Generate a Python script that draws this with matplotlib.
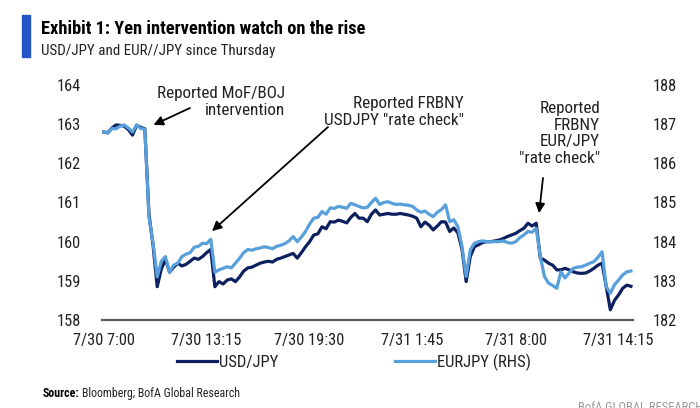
import matplotlib
matplotlib.use("Agg")
import matplotlib.pyplot as plt
import numpy as np

FONT = ['Roboto Condensed', 'Roboto', 'DejaVu Sans']
plt.rcParams['font.family'] = FONT

# ---------------- data ----------------
tick_labels = ["7/30 7:00", "7/30 13:15", "7/30 19:30", "7/31 1:45", "7/31 8:00", "7/31 14:15"]
tick_step = 25  # one tick label every 25 quarter-hour observations

usdjpy = [
    162.80, 162.78, 162.90, 162.98, 162.97, 162.95, 162.86, 162.72, 162.97, 162.92,
    162.88, 160.70, 159.90, 158.85, 159.30, 159.55, 159.22, 159.35, 159.45, 159.38,
    159.42, 159.50, 159.58, 159.55, 159.62, 159.72, 159.80, 158.85, 158.98, 158.92,
    159.02, 159.05, 158.98, 159.10, 159.25, 159.33, 159.35, 159.40, 159.45, 159.48,
    159.50, 159.48, 159.55, 159.58, 159.62, 159.66, 159.70, 159.58, 159.72, 159.87,
    160.00, 160.17, 160.20, 160.38, 160.33, 160.51, 160.50, 160.55, 160.52, 160.48,
    160.62, 160.72, 160.60, 160.60, 160.51, 160.70, 160.81, 160.68, 160.70, 160.72,
    160.70, 160.70, 160.72, 160.70, 160.68, 160.65, 160.60, 160.38, 160.50, 160.42,
    160.30, 160.40, 160.51, 160.50, 160.26, 160.35, 160.22, 159.80, 158.98, 159.62,
    159.87, 159.92, 159.98, 160.00, 160.00, 160.02, 160.04, 160.08, 160.13, 160.17,
    160.21, 160.28, 160.34, 160.47, 160.40, 160.47, 159.58, 159.53, 159.45, 159.40,
    159.28, 159.28, 159.32, 159.28, 159.23, 159.20, 159.19, 159.20, 159.25, 159.32,
    159.40, 159.45, 158.85, 158.26, 158.50, 158.64, 158.81, 158.89, 158.86,
]

eurjpy = [
    186.81, 186.77, 186.89, 186.88, 186.95, 186.98, 186.90, 186.80, 186.98, 186.89,
    186.87, 184.64, 183.96, 183.10, 183.50, 183.62, 183.22, 183.40, 183.45, 183.62,
    183.68, 183.72, 183.86, 183.88, 183.96, 183.95, 184.06, 183.22, 183.28, 183.32,
    183.36, 183.33, 183.45, 183.58, 183.72, 183.80, 183.78, 183.82, 183.84, 183.87,
    183.85, 183.82, 183.88, 183.91, 183.95, 184.02, 184.13, 184.00, 184.12, 184.26,
    184.45, 184.60, 184.62, 184.77, 184.70, 184.86, 184.85, 184.90, 184.88, 184.85,
    184.98, 184.94, 184.90, 184.86, 184.88, 185.00, 185.11, 184.95, 185.00, 185.02,
    184.98, 184.95, 184.96, 184.94, 184.93, 184.90, 184.81, 184.75, 184.78, 184.70,
    184.64, 184.75, 184.82, 184.94, 184.51, 184.56, 184.38, 183.87, 183.11, 183.79,
    183.96, 184.00, 184.02, 184.00, 184.00, 184.00, 184.00, 184.02, 183.98, 183.96,
    184.00, 184.10, 184.17, 184.26, 184.24, 184.34, 183.62, 183.11, 182.94, 182.88,
    182.81, 183.23, 183.07, 183.20, 183.32, 183.35, 183.36, 183.40, 183.45, 183.49,
    183.60, 183.74, 182.85, 182.68, 182.90, 183.02, 183.15, 183.23, 183.25,
]

left_ticks = [158, 159, 160, 161, 162, 163, 164]
right_ticks = [182, 183, 184, 185, 186, 187, 188]

# ---------------- styling ----------------
DARK = "#0c1f5e"
LIGHT = "#57a0db"
TXT = "#222222"
W, H = 700, 408

fig = plt.figure(figsize=(W / 100, H / 100), dpi=100)
ax = fig.add_axes([102 / W, 1 - 320 / H, (633 - 102) / W, (320 - 85) / H])
ax2 = ax.twinx()

x = np.arange(len(usdjpy))
l1, = ax.plot(x, usdjpy, color=DARK, lw=2.3, label="USD/JPY", solid_joinstyle='round')
l2, = ax2.plot(x, eurjpy, color=LIGHT, lw=2.3, label="EURJPY (RHS)", solid_joinstyle='round')

ax.set_ylim(left_ticks[0], left_ticks[-1])
ax2.set_ylim(right_ticks[0], right_ticks[-1])
ax.set_yticks(left_ticks)
ax2.set_yticks(right_ticks)
ax.set_xlim(-0.4, len(usdjpy) - 0.5)
ax.set_xticks(np.arange(len(tick_labels)) * tick_step)
ax.set_xticklabels(tick_labels)

for a in (ax, ax2):
    for s in ("top", "left", "right", "bottom"):
        a.spines[s].set_visible(False)
ax.spines["bottom"].set_visible(True)
ax.spines["bottom"].set_color("#5a5a5a")
ax.spines["bottom"].set_linewidth(1.6)

TS = 11.8
ax.tick_params(axis="both", length=0, labelsize=TS, colors=TXT)
ax.tick_params(axis="y", pad=15)
ax.tick_params(axis="x", pad=9)
ax2.tick_params(axis="y", length=0, labelsize=TS, colors=TXT, pad=14)

# legend
LS = 12
fig.legend(handles=[l1, l2], loc="center", bbox_to_anchor=(354 / W, 1 - 362 / H),
           ncol=2, frameon=False, fontsize=LS, handlelength=2.4, handletextpad=0.1,
           columnspacing=7.0, borderpad=0, labelcolor=TXT)

# annotations
arrow_kw = dict(arrowstyle="-|>", color="black", lw=1.3, mutation_scale=14,
                shrinkA=0, shrinkB=0)


def px(xp, yp):
    return (xp / W, 1 - yp / H)


ax.annotate("", xy=(12.1, 162.98), xycoords="data",
            xytext=px(190, 108), textcoords="figure fraction", arrowprops=arrow_kw)
ax.annotate("", xy=(26.3, 160.27), xycoords="data",
            xytext=px(328, 127), textcoords="figure fraction", arrowprops=arrow_kw)
ax.annotate("", xy=(105.7, 160.73), xycoords="data",
            xytext=px(543, 178), textcoords="figure fraction", arrowprops=arrow_kw)

AS = 12.3
fig.text(*px(285, 102), "Reported MoF/BOJ\nintervention", ha="right", va="center",
         fontsize=AS, linespacing=1.15, color=TXT)
fig.text(*px(464, 112), "Reported FRBNY\nUSDJPY \"rate check\"", ha="right", va="center",
         fontsize=AS, linespacing=1.15, color=TXT)
fig.text(*px(600, 133.5), "Reported\nFRBNY\nEUR/JPY\n\"rate check\"", ha="right", va="center",
         fontsize=AS, linespacing=1.13, color=TXT)

# title block
fig.patches.append(plt.Rectangle(px(22, 57), 8 / W, 42 / H, transform=fig.transFigure,
                                 color="#2553c8", zorder=5))
fig.text(*px(41, 33.5), "Exhibit 1: Yen intervention watch on the rise", ha="left",
         va="baseline", fontsize=13.2, fontweight="bold", color="black")
fig.text(*px(41, 54.5), "USD/JPY and EUR//JPY since Thursday", ha="left",
         va="baseline", fontsize=10.8, color=TXT)

# source line
t = fig.text(*px(43, 397), "Source:", ha="left", va="baseline", fontsize=8.6,
             fontweight="bold", color="black")
fig.canvas.draw()
bb = t.get_window_extent(renderer=fig.canvas.get_renderer())
fig.text(bb.x1 / W + 2 / W, 1 - 397 / H, "Bloomberg; BofA Global Research", ha="left",
         va="baseline", fontsize=8.6, color=TXT)

fig.text(*px(578, 401), "BofA GLOBAL RESEARCH", ha="left", va="top", fontsize=9,
         color="#9a9a9a")

fig.savefig("out.png", dpi=100)
